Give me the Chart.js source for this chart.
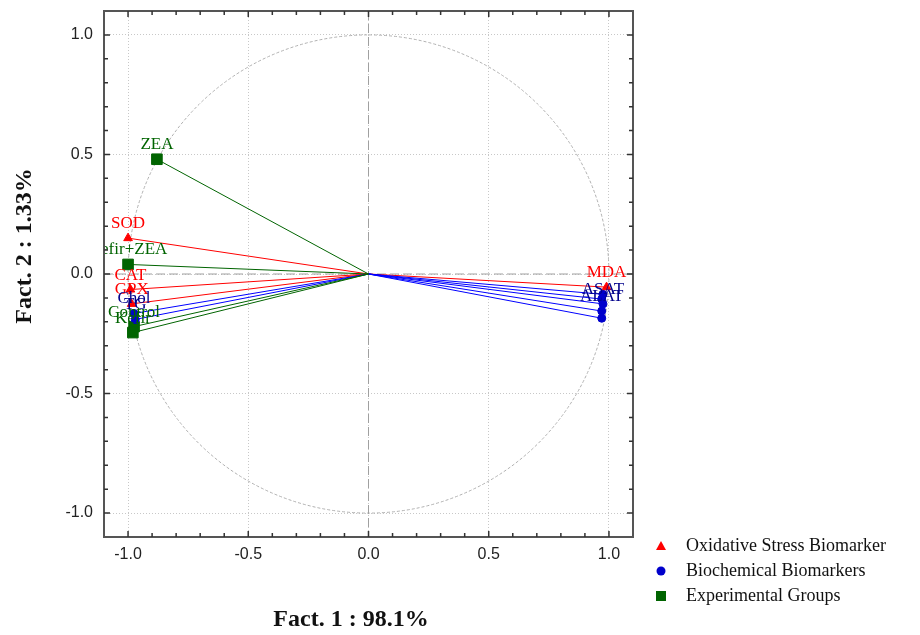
<!DOCTYPE html>
<html><head><meta charset="utf-8">
<script src="https://cdn.jsdelivr.net/npm/chart.js@4/dist/chart.umd.min.js"></script>
<style>html,body{margin:0;padding:0;background:#fff}#wrap{width:920px;height:635px;position:relative}</style>
</head><body><div id="wrap"><canvas id="c" width="920" height="635"></canvas></div>
<script>
// ---- data ----
const oxNames = ['SOD', 'CAT', 'GPX', 'MDA'];
const oxX = [-1.00, -0.99, -0.985, 0.99];
const oxY = [0.15, -0.065, -0.125, -0.055];

const bioNames = ['Chol', 'TG', '', '', 'ASAT', 'ALAT', ''];
const bioX = [-0.975, -0.97, 0.975, 0.97, 0.975, 0.97, 0.97];
const bioY = [-0.165, -0.19, -0.085, -0.105, -0.125, -0.155, -0.185];

const grpNames = ['ZEA', 'Kefir+ZEA', 'Control', 'Kefir'];
const grpX = [-0.88, -1.00, -0.975, -0.98];
const grpY = [0.48, 0.04, -0.22, -0.245];

const seriesLabels = ['Oxidative Stress Biomarker', 'Biochemical Biomarkers', 'Experimental Groups'];
const tickValues = [-1.0, -0.5, 0.0, 0.5, 1.0];
const xTitle = 'Fact. 1 : 98.1%';
const yTitle = 'Fact. 2 : 1.33%';

const toPts = (xs, ys) => xs.map((x, i) => ({x: x, y: ys[i]}));
const names = [oxNames, bioNames, grpNames];
const labelColors = ['#ff0000', '#00008b', '#006400'];
const lineColors = ['#ff0000', '#0000ff', '#006400'];

const overlay = {
  id: 'overlay',
  beforeDatasetsDraw(chart) {
    const ctx = chart.ctx, xs = chart.scales.x, ys = chart.scales.y, a = chart.chartArea;
    ctx.save();
    ctx.beginPath(); ctx.rect(a.left, a.top, a.right - a.left, a.bottom - a.top); ctx.clip();
    const cx = xs.getPixelForValue(0), cy = ys.getPixelForValue(0);
    const rx = xs.getPixelForValue(1) - cx, ry = cy - ys.getPixelForValue(1);
    ctx.strokeStyle = '#b0b0b0'; ctx.lineWidth = 1; ctx.setLineDash([3, 2]);
    ctx.beginPath(); ctx.ellipse(cx, cy, rx, ry, 0, 0, Math.PI * 2); ctx.stroke();
    ctx.strokeStyle = '#a0a0a0'; ctx.setLineDash([9, 4]);
    ctx.beginPath(); ctx.moveTo(a.left, cy); ctx.lineTo(a.right, cy); ctx.moveTo(cx, a.top); ctx.lineTo(cx, a.bottom); ctx.stroke();
    ctx.setLineDash([]);
    chart.data.datasets.forEach((ds, di) => {
      ctx.strokeStyle = lineColors[di]; ctx.lineWidth = 1;
      ds.data.forEach(p => {
        ctx.beginPath(); ctx.moveTo(cx, cy);
        ctx.lineTo(xs.getPixelForValue(p.x), ys.getPixelForValue(p.y)); ctx.stroke();
      });
    });
    ctx.restore();
  },
  afterDatasetsDraw(chart) {
    const ctx = chart.ctx, a = chart.chartArea;
    ctx.save();
    ctx.beginPath(); ctx.rect(a.left, a.top, a.right - a.left, a.bottom - a.top); ctx.clip();
    ctx.font = '17px "Liberation Serif", "Times New Roman", serif';
    ctx.textAlign = 'center'; ctx.textBaseline = 'alphabetic';
    chart.data.datasets.forEach((ds, di) => {
      const meta = chart.getDatasetMeta(di);
      meta.data.forEach((el, i) => {
        const t = names[di][i];
        if (!t) return;
        ctx.fillStyle = labelColors[di];
        ctx.fillText(t, el.x, el.y - 10);
      });
    });
    ctx.restore();
  },
  afterDraw(chart) {
    const ctx = chart.ctx, xs = chart.scales.x, ys = chart.scales.y, a = chart.chartArea;
    ctx.save();
    ctx.strokeStyle = '#555'; ctx.lineWidth = 2;
    ctx.strokeRect(a.left, a.top, a.right - a.left, a.bottom - a.top);
    ctx.lineWidth = 1.5; ctx.strokeStyle = '#333';
    for (let k = -10; k <= 10; k++) {
      const v = k / 10, major = (k % 5 === 0), L = major ? 6 : 4;
      const px = xs.getPixelForValue(v), py = ys.getPixelForValue(v);
      ctx.beginPath();
      ctx.moveTo(px, a.bottom); ctx.lineTo(px, a.bottom - L);
      ctx.moveTo(px, a.top); ctx.lineTo(px, a.top + L);
      ctx.moveTo(a.left, py); ctx.lineTo(a.left + L, py);
      ctx.moveTo(a.right, py); ctx.lineTo(a.right - L, py);
      ctx.stroke();
    }
    ctx.fillStyle = '#111';
    ctx.font = 'bold 24px "Liberation Serif", "Times New Roman", serif';
    ctx.textAlign = 'center'; ctx.textBaseline = 'middle';
    ctx.fillText(xTitle, 351, 620);
    ctx.save(); ctx.translate(25, 246); ctx.rotate(-Math.PI / 2);
    ctx.fillText(yTitle, 0, 0); ctx.restore();
    const rows = [546, 571, 596];
    const cols = ['#ff0000', '#0000cc', '#006400'];
    chart.data.datasets.forEach((ds, di) => {
      const y = rows[di], x = 661;
      ctx.fillStyle = cols[di];
      ctx.beginPath();
      if (di === 0) { ctx.moveTo(x, y - 5); ctx.lineTo(x + 5, y + 4); ctx.lineTo(x - 5, y + 4); ctx.closePath(); ctx.fill(); }
      else if (di === 1) { ctx.arc(x, y, 4.5, 0, Math.PI * 2); ctx.fill(); }
      else { ctx.fillRect(x - 5, y - 5, 10, 10); }
      ctx.fillStyle = '#111';
      ctx.font = '18px "Liberation Serif", "Times New Roman", serif';
      ctx.textAlign = 'left'; ctx.textBaseline = 'middle';
      ctx.fillText(ds.label, 686, y);
    });
    ctx.restore();
  }
};

const axisCommon = (isY) => ({
  type: 'linear', min: -1.1, max: 1.1,
  afterBuildTicks: s => { s.ticks = tickValues.map(v => ({value: v})); },
  afterFit: s => {
    if (isY) s.width = 104; else s.height = 98;
    s.paddingTop = 0; s.paddingBottom = 0; s.paddingLeft = 0; s.paddingRight = 0;
  },
  grid: {color: '#c8c8c8', lineWidth: 1, drawTicks: false},
  border: {display: false, dash: [1, 2]},
  ticks: {
    color: '#222', padding: isY ? 11 : 8,
    font: {family: '"Liberation Sans", Arial, sans-serif', size: 16},
    callback: v => Number(v).toFixed(1)
  },
  title: {display: false}
});

new Chart(document.getElementById('c'), {
  type: 'scatter',
  data: {
    datasets: [
      {label: seriesLabels[0], data: toPts(oxX, oxY), pointStyle: 'triangle', pointRadius: 5, backgroundColor: '#ff0000', borderColor: '#ff0000', borderWidth: 1},
      {label: seriesLabels[1], data: toPts(bioX, bioY), pointStyle: 'circle', pointRadius: 4, backgroundColor: '#0000cc', borderColor: '#0000cc', borderWidth: 1},
      {label: seriesLabels[2], data: toPts(grpX, grpY), pointStyle: 'rect', pointRadius: 7.5, backgroundColor: '#006400', borderColor: '#006400', borderWidth: 1}
    ]
  },
  options: {
    responsive: false, animation: false, devicePixelRatio: 1,
    layout: {padding: {top: 11, right: 287, left: 0, bottom: 0}},
    plugins: {legend: {display: false}, tooltip: {enabled: false}},
    scales: {x: axisCommon(false), y: axisCommon(true)}
  },
  plugins: [overlay]
});
</script>
</body></html>
